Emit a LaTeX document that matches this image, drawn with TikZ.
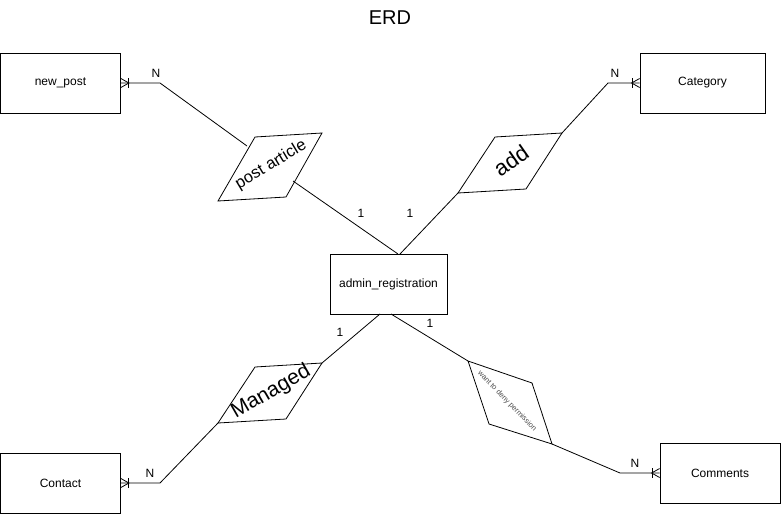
\documentclass[tikz,border=0pt]{standalone}
\usepackage{fontspec}
\setmainfont{Liberation Sans}
\begin{document}
\begin{tikzpicture}[x=1pt,y=-1pt,line width=0.8pt,
  ent/.style={draw,minimum width=120pt,minimum height=60pt,font=\fontsize{12}{14}\selectfont},
  lbl/.style={font=\fontsize{12}{14}\selectfont}]
\useasboundingbox (0,0) rectangle (781,514);
\node[font=\fontsize{20}{24}\selectfont] (title) at (390,18) {ERD};
% entities
\node[ent,minimum width=120pt] (np) at (60.5,83) {new\_post};
\node[ent,minimum width=125pt] (cat) at (702.5,83) {Category};
\node[ent,minimum width=117pt] (adm) at (388.5,284) {admin\_registration};
\node[ent] (con) at (60.5,483) {Contact};
\node[ent] (com) at (720,473) {Comments};
% relationships (parallelograms)
\coordinate (pa1) at (255,137); \coordinate (pa2) at (322,133);
\coordinate (pa3) at (286,197); \coordinate (pa4) at (218,201);
\draw (pa1) -- (pa2) -- (pa3) -- (pa4) -- cycle;
\node[rotate=31,font=\fontsize{16.5}{18}\selectfont] (patext) at (271,165) {post article};
\coordinate (ad1) at (495,137); \coordinate (ad2) at (562,133);
\coordinate (ad3) at (526,189); \coordinate (ad4) at (458,193);
\draw (ad1) -- (ad2) -- (ad3) -- (ad4) -- cycle;
\node[rotate=35,font=\fontsize{22}{24}\selectfont] (adtext) at (511,161) {add};
\coordinate (mg1) at (255,367); \coordinate (mg2) at (322,363);
\coordinate (mg3) at (286,419); \coordinate (mg4) at (218,423);
\draw (mg1) -- (mg2) -- (mg3) -- (mg4) -- cycle;
\node[rotate=30,font=\fontsize{21}{24}\selectfont] (mgtext) at (271,392) {Managed};
\coordinate (wd1) at (468,361); \coordinate (wd2) at (532,383);
\coordinate (wd3) at (552,444); \coordinate (wd4) at (489,424);
\draw (wd1) -- (wd2) -- (wd3) -- (wd4) -- cycle;
\node[rotate=-46,text=black!70,font=\fontsize{7.5}{9}\selectfont] (wdtext) at (507,401) {want to deny permission};
% connectors
\coordinate (npj) at (160,83); \coordinate (paL) at (247,146); \coordinate (paR) at (293,181);
\coordinate (admT1) at (398,254); \coordinate (admT2) at (400,254);
\coordinate (admB1) at (380,314); \coordinate (admB2) at (391,314);
\draw (np.east) -- (npj) -- (paL);
\draw (paR) -- (admT1);
\coordinate (catj) at (608,83);
\draw (cat.west) -- (catj) -- (ad2);
\draw (ad4) -- (admT2);
\coordinate (conj) at (160,483);
\draw (con.east) -- (conj) -- (mg4);
\draw (mg2) -- (admB1);
\coordinate (comj) at (620,473);
\draw (admB2) -- (wd1);
\draw (wd3) -- (comj) -- (com.west);
% crow's feet (one or many)
\draw (np.east) ++(0,-4.5) -- ++(8,4.5) -- ++(-8,4.5);
\draw (np.east) ++(7,-5) -- ++(0,10);
\draw (cat.west) ++(0,-4.5) -- ++(-8,4.5) -- ++(8,4.5);
\draw (cat.west) ++(-7,-5) -- ++(0,10);
\draw (con.east) ++(0,-4.5) -- ++(8,4.5) -- ++(-8,4.5);
\draw (con.east) ++(7,-5) -- ++(0,10);
\draw (com.west) ++(0,-4.5) -- ++(-8,4.5) -- ++(8,4.5);
\draw (com.west) ++(-7,-5) -- ++(0,10);
% cardinalities
\node[lbl] (n1) at (156,73) {N};
\node[lbl] (n2) at (615,73) {N};
\node[lbl] (n3) at (150,473) {N};
\node[lbl] (n4) at (635,463) {N};
\node[lbl] (o1) at (361,213) {1};
\node[lbl] (o2) at (410,213) {1};
\node[lbl] (o3) at (340,332) {1};
\node[lbl] (o4) at (430,323) {1};
\end{tikzpicture}
\end{document}
